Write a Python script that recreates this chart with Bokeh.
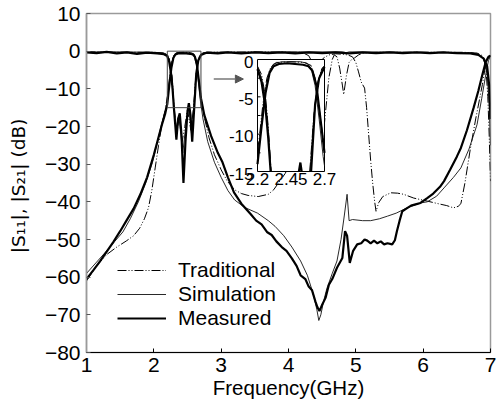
import numpy as np
from bokeh.plotting import figure
from bokeh.models import Range1d, FixedTicker, Legend, LegendItem, Arrow, NormalHead
from bokeh.core.properties import value
from bokeh.embed import file_html
from bokeh.resources import INLINE

# ---------------- data (frequency GHz, dB) ----------------
XTICKS = [1, 2, 3, 4, 5, 6, 7]
YTICKS = [-80, -70, -60, -50, -40, -30, -20, -10, 0, 10]
INSET_XTICKS = [2.2, 2.45, 2.7]
INSET_XLABELS = ["2.2", "2.45", "2.7"]
INSET_YTICKS = [0, -5, -10, -15]
INSET_YLABELS = ["0", "-5", "-10", "-15"]
INSET_MINOR_Y = [-2.5, -5, -7.5, -10, -12.5]
SERIES = ["Traditional", "Simulation", "Measured"]
X_LABEL = "Frequency(GHz)"
Y_LABEL = "|S\u2081\u2081|,  |S\u2082\u2081| (dB)"

# Measured |S21|
M21 = [(1.0,-60.5),(1.1,-58.2),(1.2,-55.8),(1.3,-53.2),(1.4,-50.6),(1.5,-47.8),(1.6,-44.8),(1.7,-41.8),
       (1.8,-38.0),(1.9,-33.5),(2.0,-27.5),(2.06,-23.5),(2.12,-19.5),(2.17,-16.5),(2.2,-14.0),(2.23,-9.0),
       (2.26,-4.5),(2.29,-1.8),(2.32,-0.9),(2.36,-0.6),(2.42,-0.5),(2.48,-0.6),(2.54,-0.7),(2.58,-0.9),
       (2.61,-1.5),(2.64,-3.5),(2.67,-8.0),(2.7,-12.5),(2.75,-17.0),(2.85,-22.5),(2.95,-27.0),(3.02,-29.5),
       (3.1,-33.5),(3.19,-37.5),(3.3,-40.5),(3.44,-43.3),(3.52,-45.0),(3.6,-46.0),(3.68,-48.0),(3.75,-48.8),
       (3.82,-50.5),(3.9,-52.0),(3.97,-53.0),(4.05,-55.0),(4.12,-57.0),(4.18,-59.5),(4.25,-60.5),(4.3,-62.5),
       (4.35,-63.5),(4.4,-66.5),(4.43,-68.0),(4.46,-69.0),(4.5,-67.3),(4.55,-65.5),(4.6,-62.0),(4.65,-60.5),
       (4.72,-57.5),(4.8,-54.9),(4.84,-47.8),(4.87,-49.0),(4.91,-56.2),(4.96,-53.0),(5.02,-51.3),(5.08,-51.0),
       (5.13,-50.0),(5.17,-50.3),(5.22,-51.0),(5.27,-50.3),(5.32,-51.0),(5.37,-50.5),(5.42,-51.3),(5.47,-51.0),
       (5.54,-51.3),(5.58,-50.2),(5.61,-47.8),(5.65,-45.0),(5.69,-42.5),(5.75,-41.8),(5.82,-41.0),(5.9,-40.6),
       (5.96,-40.3),(6.06,-39.0),(6.15,-37.8),(6.25,-36.0),(6.31,-34.5),(6.4,-31.5),(6.5,-28.0),(6.56,-25.7),
       (6.65,-21.0),(6.75,-15.0),(6.82,-10.5),(6.88,-6.2),(6.93,-2.8),(6.97,-1.5),(7.0,-1.2)]

# Measured |S11|
M11 = [(1.0,-0.3),(1.15,-0.5),(1.3,-0.2),(1.45,-0.6),(1.6,-0.3),(1.75,-0.7),(1.9,-0.4),(2.05,-0.6),
       (2.15,-0.8),(2.2,-1.3),(2.23,-3.0),(2.26,-6.5),(2.28,-10.5),(2.3,-15.5),(2.32,-20.0),(2.335,-23.5),
       (2.36,-18.0),(2.385,-16.5),(2.41,-22.0),(2.44,-35.0),(2.47,-24.0),(2.5,-16.0),(2.52,-13.8),(2.545,-17.0),
       (2.57,-24.0),(2.59,-18.0),(2.61,-12.0),(2.63,-6.0),(2.66,-2.5),(2.7,-1.0),(2.78,-0.4),(2.95,-0.6),
       (3.1,-0.3),(3.3,-0.6),(3.5,-0.3),(3.7,-0.5),(3.9,-0.3),(4.1,-0.6),(4.3,-0.3),(4.5,-0.5),(4.7,-0.3),
       (4.9,-0.6),(5.1,-0.3),(5.3,-0.5),(5.5,-0.3),(5.7,-0.5),(5.9,-0.3),(6.1,-0.5),(6.3,-0.3),(6.5,-0.5),
       (6.7,-0.6),(6.82,-1.0),(6.9,-2.0),(6.95,-4.0),(6.98,-9.0),(7.0,-18.0)]

# Simulated |S21|
S21 = [(1.0,-59.0),(1.15,-56.0),(1.3,-53.0),(1.42,-50.5),(1.54,-48.0),(1.65,-44.5),(1.77,-40.0),(1.88,-35.0),
       (1.98,-29.5),(2.05,-24.5),(2.1,-20.5),(2.15,-17.0),(2.2,-13.5),(2.23,-8.5),(2.26,-4.0),(2.29,-1.5),
       (2.32,-0.6),(2.38,-0.3),(2.45,-0.3),(2.52,-0.3),(2.57,-0.5),(2.6,-1.2),(2.63,-3.5),(2.66,-8.0),
       (2.69,-13.0),(2.73,-18.0),(2.8,-24.0),(2.9,-29.5),(3.0,-33.5),(3.1,-37.0),(3.2,-39.5),(3.35,-41.5),
       (3.54,-43.0),(3.7,-45.0),(3.8,-46.5),(3.93,-49.0),(4.05,-52.0),(4.18,-55.7),(4.28,-59.5),(4.37,-64.6),
       (4.42,-68.5),(4.45,-71.5),(4.48,-70.0),(4.52,-66.5),(4.57,-63.0),(4.65,-59.0),(4.72,-55.7),(4.78,-50.0),
       (4.83,-43.5),(4.87,-38.0),(4.9,-45.0),(4.95,-44.7),(5.1,-45.0),(5.22,-45.0),(5.35,-44.5),(5.47,-43.8),
       (5.6,-43.0),(5.76,-41.6),(5.96,-40.3),(6.06,-40.0),(6.2,-38.5),(6.31,-36.3),(6.45,-33.5),(6.56,-31.0),
       (6.68,-26.0),(6.8,-19.5),(6.87,-12.5),(6.93,-6.2),(6.97,-2.5),(7.0,-1.2)]

# Simulated |S11|
S11 = [(1.0,-0.2),(1.5,-0.2),(2.0,-0.3),(2.15,-0.5),(2.2,-1.0),(2.23,-2.5),(2.26,-5.5),(2.28,-9.5),
       (2.3,-15.0),(2.33,-21.0),(2.37,-17.0),(2.43,-27.0),(2.48,-19.0),(2.52,-15.0),(2.56,-22.0),(2.59,-15.5),
       (2.62,-8.0),(2.65,-3.2),(2.68,-1.3),(2.72,-0.5),(2.8,-0.3),(4.0,-0.2),(4.8,-0.2),(4.86,-0.4),
       (4.9,-0.2),(6.0,-0.3),(6.7,-0.4),(6.82,-0.8),(6.9,-2.0),(6.95,-6.0),(6.98,-14.0),(7.0,-25.0)]

# Traditional |S21|
T21 = [(1.0,-61.0),(1.15,-57.0),(1.3,-54.0),(1.45,-52.0),(1.59,-50.4),(1.7,-49.0),(1.79,-47.0),(1.86,-44.5),
       (1.92,-41.6),(1.97,-37.0),(2.02,-31.0),(2.07,-25.0),(2.12,-19.5),(2.17,-15.5),(2.21,-11.0),(2.24,-6.0),
       (2.27,-2.5),(2.3,-1.0),(2.34,-0.4),(2.45,-0.3),(2.55,-0.4),(2.6,-0.8),(2.63,-2.5),(2.66,-6.5),
       (2.7,-12.0),(2.75,-17.5),(2.82,-23.0),(2.9,-27.5),(3.0,-31.5),(3.09,-34.5),(3.2,-36.8),(3.3,-37.8),
       (3.4,-38.3),(3.55,-38.6),(3.7,-38.0),(3.78,-36.8),(3.85,-35.0),(3.95,-32.5),(4.05,-29.0),(4.15,-25.0),
       (4.25,-19.0),(4.33,-13.0),(4.4,-7.5),(4.46,-3.5),(4.52,-1.8),(4.6,-1.0),(4.7,-0.7),(4.8,-0.8),
       (4.88,-1.0),(4.95,-1.5),(5.0,-3.0),(5.04,-5.5),(5.08,-8.2),(5.13,-9.8),(5.16,-15.0),(5.19,-22.0),
       (5.22,-29.0),(5.25,-35.0),(5.28,-40.0),(5.3,-42.5),(5.34,-40.2),(5.4,-38.6),(5.52,-37.6),(5.62,-37.7),
       (5.71,-38.0),(5.86,-39.0),(5.96,-39.4),(6.06,-39.8),(6.2,-40.4),(6.35,-41.0),(6.45,-41.6),(6.52,-41.2),
       (6.56,-40.5),(6.62,-35.0),(6.7,-26.0),(6.78,-18.0),(6.84,-12.5),(6.88,-8.8),(6.92,-4.5),(6.95,-2.6),
       (6.98,-1.5),(7.0,-1.2)]

# Traditional |S11|
T11 = [(1.0,-0.2),(1.5,-0.3),(2.0,-0.3),(2.15,-0.5),(2.2,-0.9),(2.23,-2.0),(2.26,-5.0),(2.28,-9.0),
       (2.3,-14.5),(2.34,-22.0),(2.38,-17.0),(2.42,-24.0),(2.46,-20.0),(2.5,-15.5),(2.55,-21.0),(2.59,-15.0),
       (2.62,-7.5),(2.65,-3.0),(2.68,-1.2),(2.72,-0.5),(2.8,-0.3),(3.5,-0.2),(4.2,-0.3),(4.3,-1.2),
       (4.37,-3.5),(4.43,-9.0),(4.47,-15.0),(4.5,-25.6),(4.54,-18.0),(4.6,-7.0),(4.65,-2.2),(4.68,-1.0),
       (4.72,-1.5),(4.76,-4.5),(4.8,-9.0),(4.82,-11.5),(4.86,-6.5),(4.9,-3.0),(4.94,-2.2),(4.98,-1.8),
       (5.04,-1.0),(5.1,-0.5),(5.3,-0.3),(6.0,-0.3),(6.6,-0.3),(6.8,-0.5),(6.88,-1.2),(6.93,-4.0),
       (6.96,-12.0),(6.98,-22.0),(7.0,-34.5)]

ZOOM_BOX = (2.2, 2.7, -15.0, 0.0)     # region magnified in the inset
ARROW_X = (2.89, 3.33)
ARROW_Y = -7.4

# ---------------- layout constants ----------------
W, H = 499, 405
BL, BR, BT, BB = 86, 9, 13, 53
FW, FH = W - BL - BR, H - BT - BB
# inset placement in frame pixels
IN_LEFT, IN_W, IN_TOP, IN_H = 171, 67, 46, 112

FONT = "Liberation Sans"

def xy(pairs):
    a = np.array(pairs, dtype=float)
    return a[:, 0], a[:, 1]

def clip_segment(xa, ya, xb, yb, xmin, xmax, ymin, ymax):
    dx, dy = xb - xa, yb - ya
    t0, t1 = 0.0, 1.0
    for pp, q in ((-dx, xa - xmin), (dx, xmax - xa), (-dy, ya - ymin), (dy, ymax - ya)):
        if pp == 0:
            if q < 0:
                return None
        else:
            r = q / pp
            if pp < 0:
                if r > t1:
                    return None
                t0 = max(t0, r)
            else:
                if r < t0:
                    return None
                t1 = min(t1, r)
    return xa + t0 * dx, ya + t0 * dy, xa + t1 * dx, ya + t1 * dy

def clip_poly(xs, ys, box):
    xmin, xmax, ymin, ymax = box
    ox, oy = [], []
    last = None
    for i in range(len(xs) - 1):
        seg = clip_segment(xs[i], ys[i], xs[i + 1], ys[i + 1], xmin, xmax, ymin, ymax)
        if seg is None:
            last = None
            continue
        ax, ay, bx, by = seg
        if last is None or abs(last[0] - ax) > 1e-12 or abs(last[1] - ay) > 1e-12:
            if ox:
                ox.append(np.nan); oy.append(np.nan)
            ox.append(ax); oy.append(ay)
        ox.append(bx); oy.append(by)
        last = (bx, by)
    return np.array(ox), np.array(oy)

p = figure(width=W, height=H, x_range=Range1d(1, 7), y_range=Range1d(-80, 10),
           output_backend="svg", toolbar_location=None,
           min_border_left=BL, min_border_right=BR, min_border_top=BT, min_border_bottom=BB,
           background_fill_color="white", border_fill_color="white")
p.xgrid.visible = False
p.ygrid.visible = False
p.outline_line_color = "#9a9a9a"
p.outline_line_width = 1.5

# inset ranges (map ZOOM_BOX onto the inset pixel box)
zx0, zx1, zy0, zy1 = ZOOM_BOX
sx = IN_W / (zx1 - zx0)
sy = IN_H / (zy1 - zy0)
ix_start = zx0 - IN_LEFT / sx
iy_end = zy1 + IN_TOP / sy
p.extra_x_ranges = {"inset": Range1d(ix_start, ix_start + FW / sx)}
p.extra_y_ranges = {"inset": Range1d(iy_end - FH / sy, iy_end)}

styles = {
    "Traditional": dict(line_color="black", line_width=1.0, line_dash="9 2 1 2 1 2"),
    "Simulation": dict(line_color="#111111", line_width=0.9),
    "Measured": dict(line_color="black", line_width=2.2),
}
curves = {"Traditional": (T21, T11), "Simulation": (S21, S11), "Measured": (M21, M11)}

renderers = {}
for name in SERIES:
    for k, data in enumerate(curves[name]):
        x, y = xy(data)
        r = p.line(x, y, **styles[name])
        if k == 0:
            renderers[name] = r

# rectangle around the magnified band
p.quad(left=[zx0], right=[zx1], bottom=[zy0], top=[zy1], fill_alpha=0,
       line_color="#444444", line_width=1)

# inset panel
p.quad(left=[zx0], right=[zx1], bottom=[zy0], top=[zy1], fill_color="white",
       line_color="black", line_width=1, x_range_name="inset", y_range_name="inset")
for name in SERIES:
    for data in curves[name]:
        x, y = xy(data)
        cx, cy = clip_poly(x, y, ZOOM_BOX)
        p.line(cx, cy, x_range_name="inset", y_range_name="inset", **styles[name])
# inset ticks
tick_len = 3.0 / sx
p.segment(x0=[zx0] * len(INSET_MINOR_Y), y0=INSET_MINOR_Y,
          x1=[zx0 + tick_len] * len(INSET_MINOR_Y), y1=INSET_MINOR_Y,
          line_color="black", line_width=1, x_range_name="inset", y_range_name="inset")
p.text(x=INSET_XTICKS, y=[zy0] * 3, text=INSET_XLABELS, text_align="center",
       text_baseline="top", y_offset=1, text_font=value(FONT), text_font_size="17px",
       text_color="black", x_range_name="inset", y_range_name="inset")
p.text(x=[zx0] * 4, y=INSET_YTICKS, text=INSET_YLABELS, text_align="right",
       text_baseline="middle", x_offset=-4, y_offset=2, text_font=value(FONT),
       text_font_size="17px", text_color="black", x_range_name="inset", y_range_name="inset")

# arrow
p.add_layout(Arrow(end=NormalHead(size=8, fill_color="#555555", line_color="#555555"),
                   x_start=ARROW_X[0], y_start=ARROW_Y, x_end=ARROW_X[1], y_end=ARROW_Y,
                   line_color="#777777", line_width=1.5))

# axes
for ax in (p.xaxis, p.yaxis):
    ax.major_tick_in = 4
    ax.major_tick_out = 0
    ax.minor_tick_line_color = None
    ax.major_label_text_font = FONT
    ax.major_label_text_font_size = "21px"
    ax.major_label_text_color = "black"
    ax.axis_label_text_font_style = "normal"
    ax.axis_label_text_color = "black"
p.xaxis.ticker = FixedTicker(ticks=XTICKS)
p.yaxis.ticker = FixedTicker(ticks=YTICKS)
p.xaxis.axis_line_color = "black"
p.xaxis.major_tick_line_color = "black"
p.yaxis.axis_line_color = "#9a9a9a"
p.yaxis.axis_line_width = 1.5
p.yaxis.major_tick_line_color = "#555555"
p.xaxis.major_label_standoff = 5
p.yaxis.major_label_standoff = 6

p.xaxis.axis_label = X_LABEL
p.xaxis.axis_label_text_font = FONT
p.xaxis.axis_label_text_font_size = "20.5px"
p.xaxis.axis_label_standoff = 1
p.yaxis.axis_label = Y_LABEL
p.yaxis.axis_label_text_font = "DejaVu Sans"
p.yaxis.axis_label_text_font_size = "18.5px"
p.yaxis.axis_label_standoff = 13

legend = Legend(items=[LegendItem(label=n, renderers=[renderers[n]]) for n in SERIES],
                location=(31, 22), orientation="vertical")
legend.background_fill_alpha = 0
legend.border_line_color = None
legend.padding = 0
legend.margin = 0
legend.spacing = 0
legend.glyph_width = 49
legend.glyph_height = 20
legend.label_height = 20
legend.label_standoff = 12
legend.label_text_font = FONT
legend.label_text_font_size = "21px"
legend.label_text_color = "black"
p.add_layout(legend)

open("out.html", "w").write(file_html(p, INLINE))
